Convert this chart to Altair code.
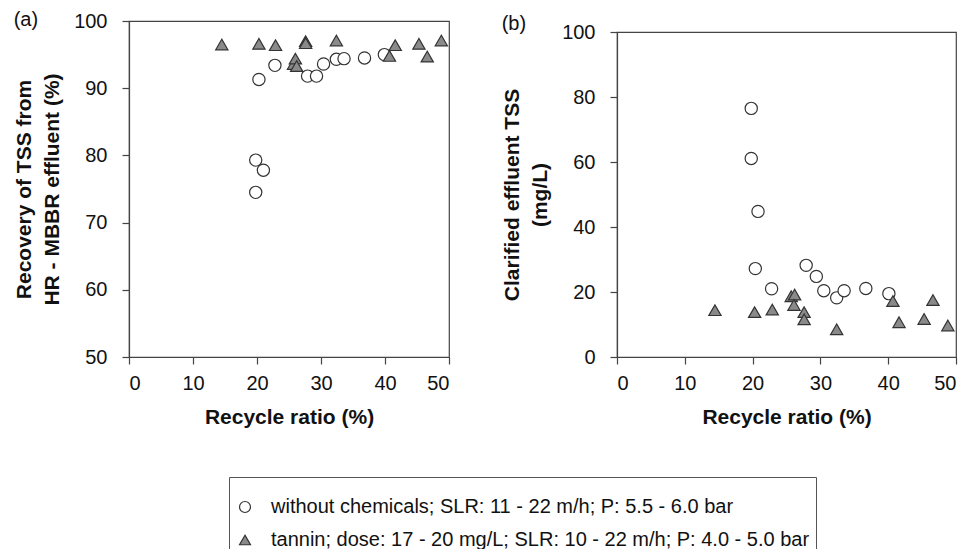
import altair as alt
import pandas as pd

FONT = "Liberation Sans"

S1 = "without chemicals; SLR: 11 - 22 m/h; P: 5.5 - 6.0 bar"
S2 = "tannin; dose: 17 - 20 mg/L; SLR: 10 - 22 m/h; P: 4.0 - 5.0 bar"

# Panel (a): recovery of TSS from HR-MBBR effluent (%)
a_circle_x = [19.8, 21.0, 19.8, 20.3, 22.8, 27.9, 29.3, 30.4, 32.4, 33.6, 36.8, 39.9]
a_circle_y = [79.3, 77.8, 74.5, 91.3, 93.4, 91.8, 91.8, 93.6, 94.3, 94.4, 94.5, 95.0]
a_tri_x = [14.5, 20.3, 22.9, 25.7, 26.0, 26.2, 27.6, 27.6, 32.4, 40.7, 41.6, 45.3, 46.6, 48.8]
a_tri_y = [96.5, 96.6, 96.4, 93.6, 94.4, 93.3, 97.0, 96.7, 97.1, 94.8, 96.4, 96.6, 94.7, 97.1]

# Panel (b): clarified effluent TSS (mg/L)
b_circle_x = [19.8, 19.8, 20.8, 20.4, 22.8, 27.9, 29.4, 30.5, 32.4, 33.5, 36.7, 40.1]
b_circle_y = [76.5, 61.1, 44.8, 27.2, 21.0, 28.2, 24.8, 20.4, 18.2, 20.4, 21.1, 19.5]
b_tri_x = [14.45, 20.3, 22.9, 25.7, 26.2, 26.1, 27.6, 27.6, 32.4, 40.7, 41.6, 45.3, 46.6, 48.8]
b_tri_y = [14.4, 13.8, 14.6, 18.7, 19.2, 16.0, 13.8, 11.6, 8.5, 17.2, 10.7, 11.7, 17.5, 9.7]

x_ticks = [0, 10, 20, 30, 40, 50]
a_y_ticks = [50, 60, 70, 80, 90, 100]
b_y_ticks = [0, 20, 40, 60, 80, 100]


def frame(cx, cy, tx, ty):
    return pd.DataFrame({
        "x": cx + tx,
        "y": cy + ty,
        "series": [S1] * len(cx) + [S2] * len(tx),
    })


df_a = frame(a_circle_x, a_circle_y, a_tri_x, a_tri_y)
df_b = frame(b_circle_x, b_circle_y, b_tri_x, b_tri_y)

# blank legend title reserves the empty band above the entries;
# trailing no-break spaces on labels leave the right-hand margin inside the box
legend = alt.Legend(
    orient="none", legendX=100, legendY=456, direction="vertical",
    title="\u00a0", titleFontSize=10, titlePadding=4,
    labelFontSize=20, labelFont=FONT, labelColor="#111", labelLimit=1000,
    labelExpr="datum.label + '\u00a0\u00a0\u00a0\u00a0'",
    symbolSize=120, symbolStrokeWidth=1.2,
    strokeColor="#555", fillColor="white", padding=6, rowPadding=13, labelOffset=16,
)
dom = [S1, S2]
shape_enc = alt.Shape("series:N", scale=alt.Scale(domain=dom, range=["circle", "triangle-up"]), legend=legend)
fill_enc = alt.Fill("series:N", scale=alt.Scale(domain=dom, range=["white", "#8a8a8a"]), legend=legend)
stroke_enc = alt.Stroke("series:N", scale=alt.Scale(domain=dom, range=["#333333", "#333333"]), legend=legend)


def panel(df, ydom, yticks, ytitle, label, w, h, tdy):
    return alt.Chart(df).mark_point(filled=True, size=150, strokeWidth=1.2, opacity=1).encode(
        x=alt.X("x:Q", scale=alt.Scale(domain=[0, 50], nice=False),
                axis=alt.Axis(values=x_ticks, title="Recycle ratio (%)")),
        y=alt.Y("y:Q", scale=alt.Scale(domain=ydom, nice=False),
                axis=alt.Axis(values=yticks, title=ytitle)),
        shape=shape_enc,
        fill=fill_enc,
        stroke=stroke_enc,
    ).properties(
        width=w, height=h,
        title=alt.TitleParams(label, anchor="start", frame="bounds", fontSize=20, fontWeight="normal",
                              font=FONT, color="#111", offset=0, dy=tdy),
    )


chart_a = panel(df_a, [50, 100], a_y_ticks, ["Recovery of TSS from", "HR -  MBBR effluent (%)"], "(a)", 320, 336, 18.5)
chart_b = panel(df_b, [0, 100], b_y_ticks, ["Clarified effluent TSS", "(mg/L)"], "(b)", 339, 325, 12)

spacer = alt.Chart(pd.DataFrame({"v": [0]})).mark_point(opacity=0).encode(
    x=alt.value(0), y=alt.value(0)
).properties(width=339, height=11, view=alt.ViewBackground(stroke="transparent"))

right = alt.vconcat(spacer, chart_b, spacing=0, bounds="flush")

chart = alt.hconcat(chart_a, right, spacing=168, bounds="flush").properties(
    padding={"left": 5, "top": 0, "right": 0, "bottom": 0}
).configure_view(stroke="#444", strokeWidth=1.2).configure_axis(
    grid=False, domainColor="#444", tickColor="#444", tickSize=7, domainWidth=1.2, tickWidth=1.2,
    labelFont=FONT, labelFontSize=20, labelColor="#111",
    titleFont=FONT, titleFontSize=21, titleFontWeight="bold", titleColor="#111",
).configure_axisX(labelPadding=9, titlePadding=13).configure_axisY(
    labelPadding=15, titlePadding=11, titleLineHeight=28
)

chart.save("out.html", embed_options={"renderer": "svg", "actions": False})
